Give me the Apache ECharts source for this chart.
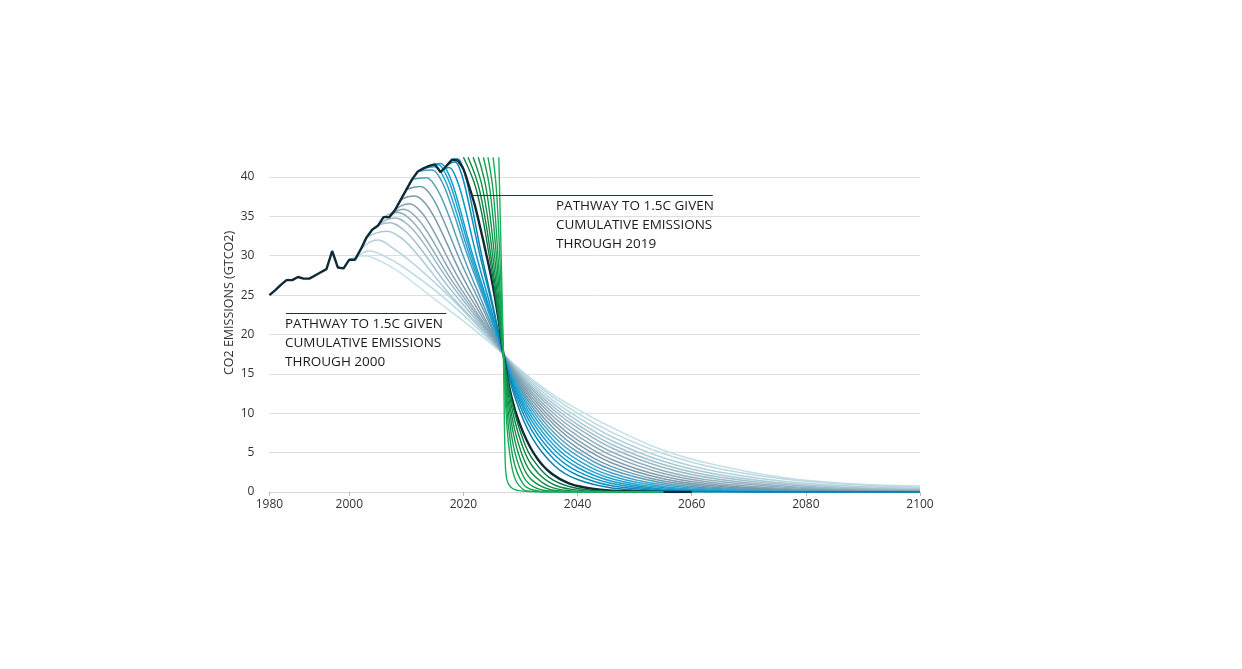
<!DOCTYPE html>
<html>
<head>
<meta charset="utf-8">
<script src="https://cdn.jsdelivr.net/npm/echarts@6/dist/echarts.min.js"></script>
<style>html,body{margin:0;padding:0;background:#fff}#c{width:1242px;height:669px}</style>
</head>
<body>
<div id="c"></div>
<script>
// ---- x-axis tick positions and their printed labels ----
const xTickYears  = [1986, 2000, 2020, 2040, 2060, 2080, 2100];
const xTickLabels = ['1980', '2000', '2020', '2040', '2060', '2080', '2100'];

// ---- historical emissions (GtCO2) ----
const histYears  = [1986,1987,1988,1989,1990,1991,1992,1993,1994,1995,1996,1997,1998,1999,2000,2001,2002,2003,2004,2005,2006,2007,2008,2009,2010,2011,2012,2013,2014,2015,2016,2017,2018,2019];
const histValues = [25.0,25.6,26.3,26.9,26.9,27.3,27.1,27.1,27.5,27.9,28.3,30.6,28.5,28.4,29.5,29.5,30.8,32.3,33.3,33.8,34.9,34.9,35.8,37.1,38.4,39.7,40.7,41.1,41.4,41.6,40.6,41.4,42.2,42.1];

// ---- 1.5C pathways, by start year [year, GtCO2] ----
const P2000 = [[2000,29.5],[2001.25,29.88],[2002.5,30.0],[2005.44,29.31],[2008.6,28.0],[2014.75,24.6],[2020.9,21.2],[2027,17.5],[2029,16.15],[2032,14.35],[2036,12.2],[2040,10.5],[2046,8.2],[2055,5.3],[2065,3.3],[2080,1.5],[2100,0.76]];
const P2001 = [[2001,29.5],[2002.25,30.33],[2003.5,30.6],[2006.32,29.88],[2009.4,28.58],[2015.25,25.47],[2021.1,21.72],[2027,17.5],[2029,16.06],[2032,14.11],[2036,11.88],[2040,10.01],[2046,7.58],[2055,4.88],[2065,2.93],[2080,1.36],[2100,0.59]];
const P2002 = [[2002,30.8],[2003.5,31.7],[2005,32.0],[2007.64,30.97],[2010.5,29.43],[2016,25.91],[2021.5,21.88],[2027,17.5],[2029,15.93],[2032,13.84],[2036,11.46],[2040,9.5],[2046,7.02],[2055,4.36],[2065,2.52],[2080,1.1],[2100,0.44]];
const P2003 = [[2003,32.3],[2004.75,32.9],[2006.5,33.1],[2008.96,32.32],[2011.6,30.45],[2016.75,25.81],[2021.9,21.73],[2027,17.5],[2029,15.8],[2032,13.56],[2036,11.06],[2040,9.02],[2046,6.51],[2055,3.9],[2065,2.17],[2080,0.89],[2100,0.33]];
const P2004 = [[2004,33.3],[2005.5,33.98],[2007,34.2],[2009.4,33.36],[2012,31.36],[2017,26.4],[2022,22.03],[2027,17.5],[2029,15.68],[2032,13.29],[2036,10.67],[2040,8.56],[2046,6.03],[2055,3.49],[2065,1.86],[2080,0.72],[2100,0.25]];
const P2005 = [[2005,33.8],[2006.5,34.55],[2008,34.8],[2010.28,33.93],[2012.75,31.86],[2017.5,26.72],[2022.25,22.19],[2027,17.5],[2029,15.55],[2032,13.03],[2036,10.29],[2040,8.13],[2046,5.59],[2055,3.12],[2065,1.6],[2080,0.58],[2100,0.18]];
const P2006 = [[2006,34.9],[2007.25,35.35],[2008.5,35.5],[2010.72,34.6],[2013.1,32.44],[2017.75,27.09],[2022.4,22.38],[2027,17.5],[2029,15.4],[2032,12.71],[2036,9.84],[2040,7.62],[2046,5.08],[2055,2.71],[2065,1.32],[2080,0.45],[2100,0.13]];
const P2007 = [[2007,34.9],[2008.25,35.65],[2009.5,35.9],[2011.6,34.98],[2013.9,32.77],[2018.25,27.31],[2022.6,22.49],[2027,17.5],[2029,15.24],[2032,12.39],[2036,9.4],[2040,7.14],[2046,4.62],[2055,2.36],[2065,1.09],[2080,0.34],[2100,0.09]];
const P2008 = [[2008,35.8],[2009.25,36.4],[2010.5,36.6],[2012.48,35.64],[2014.6,33.35],[2018.75,27.68],[2022.9,22.68],[2027,17.5],[2029,15.06],[2032,12.03],[2036,8.91],[2040,6.6],[2046,4.12],[2055,1.99],[2065,0.87],[2080,0.25],[2100,0.06]];
const P2009 = [[2009,37.1],[2010.25,37.48],[2011.5,37.6],[2013.36,36.6],[2015.4,34.18],[2019.25,28.21],[2023.1,22.95],[2027,17.5],[2029,14.88],[2032,11.67],[2036,8.44],[2040,6.11],[2046,3.68],[2055,1.68],[2065,0.69],[2080,0.18],[2100,0.04]];
const P2010 = [[2010,38.4],[2011.25,38.7],[2012.5,38.8],[2014.24,37.73],[2016.1,35.18],[2019.75,28.85],[2023.4,23.27],[2027,17.5],[2029,14.68],[2032,11.27],[2036,7.93],[2040,5.57],[2046,3.22],[2055,1.39],[2065,0.53],[2080,0.13],[2100,0.02]];
const P2011 = [[2011,39.7],[2012.25,39.85],[2013.5,39.9],[2015.12,38.78],[2016.9,36.09],[2020.25,29.44],[2023.6,23.57],[2027,17.5],[2029,14.47],[2032,10.88],[2036,7.44],[2040,5.09],[2046,2.82],[2055,1.14],[2065,0.41],[2080,0.09],[2100,0.01]];
const P2012 = [[2012,40.7],[2013.25,40.85],[2014.5,40.9],[2016.0,39.73],[2017.6,36.92],[2020.75,29.97],[2023.9,23.84],[2027,17.5],[2029,14.24],[2032,10.46],[2036,6.92],[2040,4.59],[2046,2.42],[2055,0.91],[2065,0.3],[2080,0.06],[2100,0.01]];
const P2013 = [[2013,41.1],[2014,41.25],[2015,41.3],[2016.44,40.11],[2018,37.25],[2021,30.19],[2024,23.95],[2027,17.5],[2029,13.99],[2032,10.0],[2036,6.39],[2040,4.08],[2046,2.04],[2055,0.71],[2065,0.21],[2080,0.03],[2100,0]];
const P2014 = [[2014,41.4],[2014.75,41.55],[2015.5,41.6],[2016.88,40.4],[2018.4,37.5],[2021.25,30.35],[2024.1,24.03],[2027,17.5],[2029,13.71],[2032,9.51],[2036,5.84],[2040,3.58],[2046,1.69],[2055,0.53],[2065,0.15],[2080,0.02],[2100,0]];
const P2015 = [[2015,41.6],[2015.5,41.68],[2016,41.7],[2017.32,40.49],[2018.75,37.59],[2021.5,30.4],[2024.25,24.06],[2027,17.5],[2029,13.41],[2032,9.0],[2036,5.29],[2040,3.11],[2046,1.37],[2055,0.39],[2065,0.1],[2080,0.01],[2100,0]];
const P2016 = [[2016,40.6],[2016.75,41.05],[2017.5,41.2],[2018.64,40.01],[2019.9,37.17],[2022.25,30.13],[2024.6,23.92],[2027,17.5],[2029,13.07],[2032,8.43],[2036,4.7],[2040,2.62],[2046,1.07],[2055,0.27],[2065,0.06],[2080,0.01],[2100,0]];
const P2017 = [[2017,41.4],[2017.75,41.78],[2018.5,41.9],[2019.52,40.68],[2020.6,37.75],[2022.75,30.51],[2024.9,24.11],[2027,17.5],[2029,12.66],[2032,7.79],[2036,4.07],[2040,2.13],[2046,0.79],[2055,0.17],[2065,0.03],[2080,0],[2100,0]];
const P2018 = [[2018,42.2],[2018.5,42.28],[2019,42.3],[2019.96,41.06],[2021,38.08],[2023,30.72],[2025,24.22],[2027,17.5],[2029,12.09],[2032,6.94],[2036,3.31],[2040,1.58],[2046,0.52],[2055,0.1],[2065,0.02],[2080,0],[2100,0]];
// pathway given emissions through 2019 (continues the historical line)
const P2019 = [[2019,42.1],[2020,41.0],[2021,38.8],[2022,36.4],[2023,33.4],[2024,30.2],[2025,26.8],[2026,22.6],[2027,17.6],[2028,13.4],[2029,10.5],[2030,8.4],[2031,6.7],[2032,5.3],[2033,4.2],[2034,3.3],[2035,2.6],[2036,2.05],[2037,1.6],[2038,1.25],[2039,0.97],[2040,0.76],[2042,0.47],[2044,0.29],[2046,0.18],[2050,0.07],[2055,0.02],[2060,0]];
// later start years (enter from the top of the chart)
const G2020 = [[2020.0,42.5],[2022.31,38.25],[2024.69,29.3],[2025.95,23.2],[2027,17.5],[2028,13.23],[2029,10.0],[2030.5,6.57],[2032,4.32],[2035,1.86],[2039,0.61],[2045,0.11],[2055,0.01]];
const G2021 = [[2020.8,42.5],[2022.85,38.25],[2024.95,29.3],[2026.07,23.2],[2027,17.5],[2028,12.58],[2029,9.05],[2030.5,5.51],[2032,3.36],[2035,1.25],[2039,0.33],[2045,0.05],[2055,0]];
const G2022 = [[2021.7,42.5],[2023.45,38.25],[2025.25,29.3],[2026.2,23.2],[2027,17.5],[2028,11.73],[2029,7.86],[2030.5,4.32],[2032,2.37],[2035,0.71],[2039,0.14],[2045,0.01],[2055,0]];
const G2023 = [[2022.6,42.5],[2024.05,38.25],[2025.55,29.3],[2026.34,23.2],[2027,17.5],[2027.5,13.7],[2028,10.72],[2029,6.57],[2030.5,3.15],[2032,1.51],[2035,0.35],[2039,0.05],[2045,0],[2055,0]];
const G2024 = [[2023.5,42.5],[2024.66,38.25],[2025.85,29.3],[2026.48,23.2],[2027,17.5],[2027.5,12.8],[2028,9.41],[2029,5.06],[2030.5,2.0],[2032,0.79],[2035,0.12],[2039,0.02],[2045,0],[2055,0]];
const G2025 = [[2024.3,42.5],[2025.2,38.25],[2026.11,29.3],[2026.6,23.2],[2027,17.5],[2027.5,11.6],[2028,7.71],[2029,3.39],[2030.5,0.99],[2032,0.29],[2035,0.02],[2039,0],[2055,0]];
const G2026 = [[2025.2,42.5],[2025.79,38.25],[2026.41,29.3],[2026.73,23.2],[2027,17.5],[2027.5,9.85],[2028,5.54],[2029,1.76],[2030.5,0.31],[2032,0.06],[2035,0],[2055,0]];
const G2027 = [[2026.2,42.5],[2027,17.5],[2027.3,4.5],[2027.6,1.6],[2028.3,0.6],[2029.5,0.2],[2032,0.05],[2040,0],[2055,0]];

// ---- annotation leader lines [start, end] in data units ----
const annotationLines = [[[2021.4,37.7],[2063.7,37.7]], [[1988.9,22.7],[2017.0,22.7]]];
const annotationTexts = ['PATHWAY TO 1.5C GIVEN\nCUMULATIVE EMISSIONS\nTHROUGH 2019', 'PATHWAY TO 1.5C GIVEN\nCUMULATIVE EMISSIONS\nTHROUGH 2000'];
const yAxisTitle = 'CO2 EMISSIONS (GTCO2)';

// ---- styling ----
const bluePathways = [P2000,P2001,P2002,P2003,P2004,P2005,P2006,P2007,P2008,P2009,P2010,P2011,P2012,P2013,P2014,P2015,P2016,P2017,P2018];
const blueColors = ['#c3dfe7','#bad9e2','#b1d1dc','#a8c9d5','#a0c0cd','#98b7c5','#90afbd','#89a7b6','#839fae','#7d99a8','#6c9bb1','#589eba','#44a1c4','#30a3cc','#20a2d1','#159dcd','#0e95c5','#0b8bbb','#0a80ae'];
const greenPathways = [G2020,G2021,G2022,G2023,G2024,G2025,G2026,G2027];
const greenColors = ['#0c7b40','#0d8544','#0f8d48','#11954c','#129c50','#14a354','#17aa58','#1ab15c'];
const DARK = '#0e2a35';
const FONT = '"Open Sans", "DejaVu Sans", sans-serif';

const series = [];
bluePathways.forEach((d, i) => series.push({
  type: 'line', data: d, smooth: 0.4, symbol: 'none', silent: true,
  lineStyle: { width: 1.5, color: blueColors[i] }
}));
series.push({
  type: 'line', data: P2019, smooth: 0.3, symbol: 'none', silent: true,
  lineStyle: { width: 2.4, color: DARK }
});
greenPathways.forEach((d, i) => series.push({
  type: 'line', data: d, smooth: 0.4, symbol: 'none', silent: true,
  lineStyle: { width: 1.4, color: greenColors[i] }
}));
series.push({
  type: 'line', data: histYears.map((y, i) => [y, histValues[i]]), smooth: false,
  symbol: 'none', silent: true, lineStyle: { width: 2.4, color: DARK },
  markLine: {
    silent: true, symbol: ['none', 'none'], label: { show: false }, animation: false,
    lineStyle: { color: '#1f3640', width: 1, type: 'solid' },
    data: annotationLines.map(l => [{ coord: l[0] }, { coord: l[1] }])
  }
});

const chart = echarts.init(document.getElementById('c'), null, { renderer: 'canvas' });
chart.setOption({
  animation: false,
  backgroundColor: '#ffffff',
  grid: { left: 269.4, right: 322, top: 157.3, bottom: 177, containLabel: false },
  xAxis: {
    type: 'value', min: 1986, max: 2100,
    axisLine: { show: true, lineStyle: { color: '#d6d6d6', width: 1 } },
    axisTick: { show: true, customValues: xTickYears, length: 4, lineStyle: { color: '#bdbdbd' } },
    axisLabel: {
      customValues: xTickYears, color: '#333', fontSize: 12, fontFamily: FONT, margin: 7,
      formatter: v => xTickLabels[xTickYears.indexOf(v)]
    },
    splitLine: { show: false }
  },
  yAxis: {
    type: 'value', min: 0, max: 42.5, interval: 5,
    axisLine: { show: false }, axisTick: { show: false },
    axisLabel: { showMaxLabel: false, color: '#333', fontSize: 12, fontFamily: FONT, margin: 15, padding: [0, 0, 6, 0] },
    splitLine: { show: true, showMaxLine: false, lineStyle: { color: '#dedede', width: 1 } }
  },
  graphic: [
    { type: 'text', left: 556, top: 196.5, silent: true,
      style: { text: annotationTexts[0], fill: '#1a1a1a', font: '13.5px ' + FONT, lineHeight: 19 } },
    { type: 'text', left: 285, top: 314.5, silent: true,
      style: { text: annotationTexts[1], fill: '#1a1a1a', font: '13.5px ' + FONT, lineHeight: 19 } },
    { type: 'text', x: 229, y: 303, rotation: Math.PI / 2, silent: true,
      style: { text: yAxisTitle, fill: '#333', font: '12.5px ' + FONT, align: 'center', verticalAlign: 'middle' } }
  ],
  series: series
});
</script>
</body>
</html>
